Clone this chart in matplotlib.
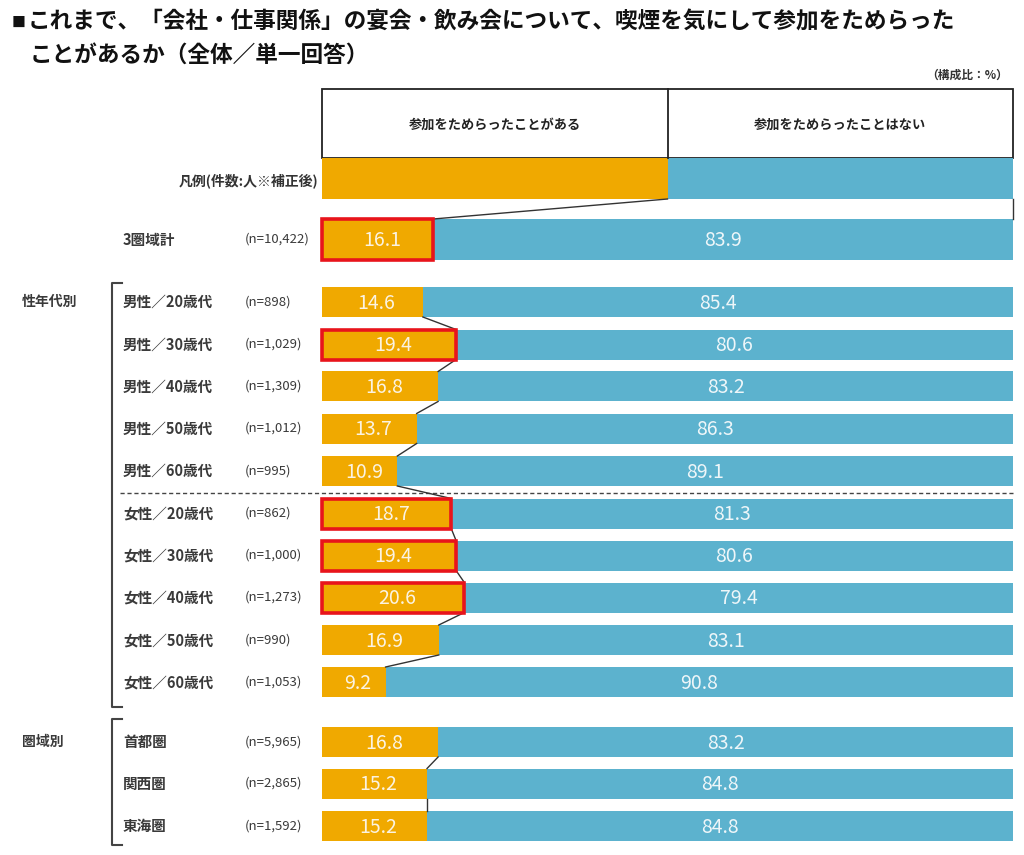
import matplotlib.pyplot as plt
from matplotlib.patches import Rectangle

plt.rcParams['font.family'] = ['Noto Sans CJK JP', 'DejaVu Sans']

# data
legend_label = "凡例(件数:人※補正後)"
col_labels = ["参加をためらったことがある", "参加をためらったことはない"]
rows = ["3圏域計",
        "男性／20歳代", "男性／30歳代", "男性／40歳代", "男性／50歳代", "男性／60歳代",
        "女性／20歳代", "女性／30歳代", "女性／40歳代", "女性／50歳代", "女性／60歳代",
        "首都圏", "関西圏", "東海圏"]
n_labels = ["(n=10,422)",
            "(n=898)", "(n=1,029)", "(n=1,309)", "(n=1,012)", "(n=995)",
            "(n=862)", "(n=1,000)", "(n=1,273)", "(n=990)", "(n=1,053)",
            "(n=5,965)", "(n=2,865)", "(n=1,592)"]
hesitated = [16.1, 14.6, 19.4, 16.8, 13.7, 10.9, 18.7, 19.4, 20.6, 16.9, 9.2, 16.8, 15.2, 15.2]
not_hesitated = [83.9, 85.4, 80.6, 83.2, 86.3, 89.1, 81.3, 80.6, 79.4, 83.1, 90.8, 83.2, 84.8, 84.8]
highlight = [True, False, True, False, False, False, True, True, True, False, False, False, False, False]

# layout (figure pixels, y from top)
row_y = [239.5, 302, 344.5, 386.5, 428.5, 471, 513.5, 555.5, 597.5, 640, 682, 742, 783.5, 826]
row_h = [41] + [30] * 13
connect = [False, True, True, True, True, True, True, True, True, True, False, True, True, False]
leg_y, leg_h = 178.5, 41

orange = "#F0A900"
blue = "#5CB2CE"
val_color = "#FBF3E2"

fig = plt.figure(figsize=(10.24, 8.55), dpi=100)
bg = fig.add_axes([0, 0, 1, 1])
bg.set_xlim(0, 1024)
bg.set_ylim(855, 0)
bg.axis("off")

ax = fig.add_axes([322 / 1024, 0, 691 / 1024, 1])
ax.set_xlim(0, 100)
ax.set_ylim(855, 0)
ax.axis("off")

# title
bg.text(12, 23, "■", fontsize=10, va="center", ha="left", color="#111111")
bg.text(28, 22, "これまで、「会社・仕事関係」の宴会・飲み会について、喫煙を気にして参加をためらった",
        fontsize=16.3, fontweight="bold", va="center", ha="left", color="#111111")
bg.text(30, 55, "ことがあるか（全体／単一回答）",
        fontsize=16.3, fontweight="bold", va="center", ha="left", color="#111111")
bg.text(1008, 75, "（構成比：%）", fontsize=8.5, fontweight="bold", ha="right", va="center", color="#333333")

# header box
ax.add_patch(Rectangle((0, 89), 100, 69, fill=False, ec="#222222", lw=1.3, clip_on=False))
ax.plot([50, 50], [89, 158], color="#222222", lw=1.3, clip_on=False)
ax.text(25, 125, col_labels[0], ha="center", va="center", fontsize=9.5, fontweight="bold", color="#222222")
ax.text(75, 125, col_labels[1], ha="center", va="center", fontsize=9.5, fontweight="bold", color="#222222")

# legend bar
ax.barh(leg_y, 50, height=leg_h, color=orange, left=0)
ax.barh(leg_y, 50, height=leg_h, color=blue, left=50)
bg.text(318, leg_y + 2, legend_label, ha="right", va="center", fontsize=10, fontweight="bold", color="#333333")

# bars
ax.barh(row_y, hesitated, height=row_h, color=orange)
ax.barh(row_y, not_hesitated, height=row_h, left=hesitated, color=blue)

for i in range(len(rows)):
    y = row_y[i]
    ax.text(hesitated[i] / 2 + 0.6, y + 1, f"{hesitated[i]:.1f}", ha="center", va="center",
            fontsize=14, color=val_color)
    ax.text(hesitated[i] + not_hesitated[i] / 2, y + 1, f"{not_hesitated[i]:.1f}", ha="center",
            va="center", fontsize=14, color="#EEF6F9")
    if highlight[i]:
        ax.add_patch(Rectangle((0, y - row_h[i] / 2), hesitated[i], row_h[i], fill=False,
                               ec="#E8141B", lw=2.6, clip_on=False, zorder=5))
    bg.text(123, y, rows[i], ha="left", va="center", fontsize=10.5, fontweight="bold", color="#3a3a3a")
    bg.text(245, y, n_labels[i], ha="left", va="center", fontsize=9.5, color="#3a3a3a")

# connector lines
ax.plot([50, hesitated[0]], [leg_y + leg_h / 2, row_y[0] - row_h[0] / 2], color="#333333", lw=1)
ax.plot([100, 100], [leg_y + leg_h / 2, row_y[0] - row_h[0] / 2], color="#333333", lw=1, clip_on=False)
for i in range(len(rows) - 1):
    if connect[i] and i > 0:
        ax.plot([hesitated[i], hesitated[i + 1]],
                [row_y[i] + row_h[i] / 2, row_y[i + 1] - row_h[i + 1] / 2],
                color="#333333", lw=1, zorder=4)

# dashed separator between male and female
bg.plot([120, 1013], [492.5, 492.5], color="#444444", lw=1, ls=(0, (3, 2)))

# group brackets and labels
for (y0, y1), label, ly in [((283, 707), "性年代別", 302), ((719, 845), "圏域別", 742)]:
    bg.plot([122, 112, 112, 122], [y0, y0, y1, y1], color="#444444", lw=1.5)
    bg.text(22, ly, label, ha="left", va="center", fontsize=10, fontweight="bold", color="#3a3a3a")

fig.savefig("out.png", dpi=100)
